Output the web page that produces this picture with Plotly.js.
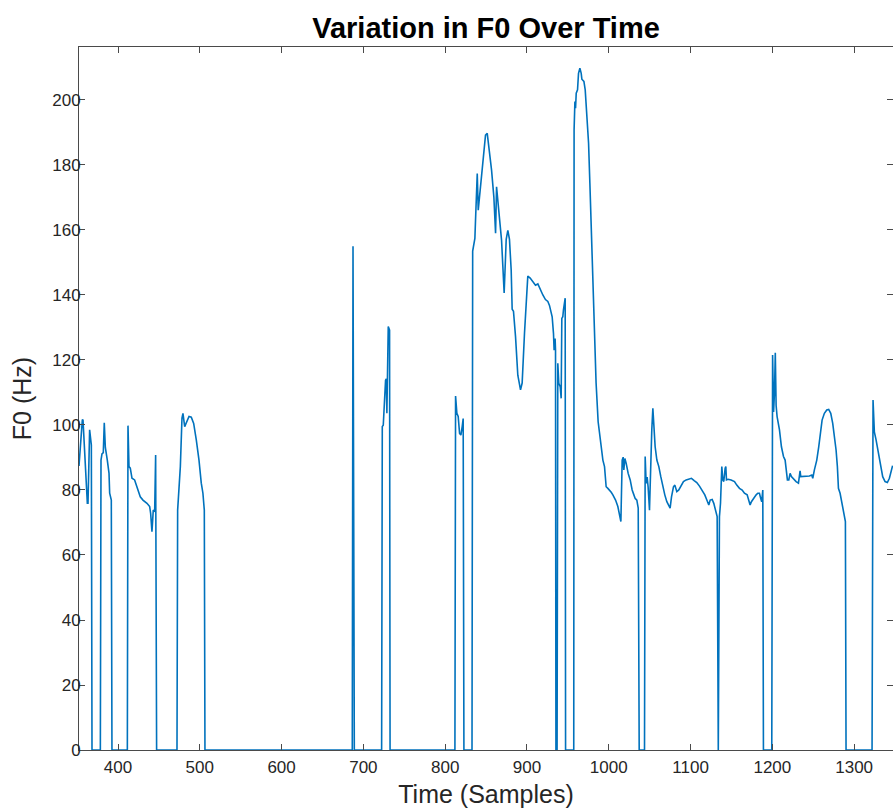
<!DOCTYPE html>
<html>
<head>
<meta charset="utf-8">
<script src="https://cdn.plot.ly/plotly-3.0.1.min.js"></script>
<style>html,body{margin:0;padding:0;background:#fff;}#chart{width:893px;height:811px;}</style>
</head>
<body>
<div id="chart"></div>
<script>
// Time (samples) and F0 (Hz)
const timeSamples = [
352.3,353.9,356.4,357.2,358.4,359.2,361.3,362.5,363.3,365.3,367.4,368.2,
378.4,379.2,380.4,382.0,383.2,384.5,386.9,389.0,389.8,391.8,392.6,
411.4,412.2,413.4,415.0,417.1,420.3,423.2,425.6,427.2,430.5,435.4,438.7,439.9,441.5,443.1,444.8,446.0,447.2,
472.1,472.9,474.5,476.2,478.2,479.4,481.5,483.5,486.8,489.6,492.5,495.7,499.0,501.8,503.8,505.5,506.3,
686.4,687.3,688.9,
722.3,723.1,724.3,727.1,728.0,728.7,730.4,732.0,732.6,
811.9,812.7,814.3,815.9,817.6,819.2,820.8,822.0,822.9,
832.8,833.6,836.3,837.1,839.2,840.4,843.2,846.1,849.3,851.4,853.4,856.7,859.5,861.6,862.8,864.4,866.9,868.9,870.5,872.1,
874.6,876.6,878.6,880.7,881.9,883.5,886.0,888.8,892.1,894.1,897.0,899.0,901.0,903.9,907.2,910.4,913.3,915.3,919.4,922.6,925.5,927.5,929.6,930.8,932.4,933.2,934.4,934.9,935.4,
936.8,937.7,938.9,940.6,941.8,942.6,943.8,944.6,946.7,947.2,
957.2,957.6,958.6,959.4,960.2,961.8,963.0,964.7,966.3,967.1,969.6,971.2,973.2,975.3,976.9,978.5,980.1,981.8,983.0,984.5,987.0,988.7,990.7,992.8,994.8,996.8,998.9,1000.9,1003.0,1005.0,1008.3,1011.1,1013.1,1014.8,
1016.4,1017.6,1018.4,1019.7,1021.3,1023.7,1026.2,1028.6,1030.7,1032.3,1034.3,1036.0,1037.2,
1043.7,1044.5,1045.7,1046.9,1048.1,1049.8,1051.1,1052.6,1053.9,1055.1,1056.7,1058.8,1061.2,1063.6,1066.1,1068.5,1071.0,1073.4,1075.0,1076.7,1079.1,1080.8,1083.2,1085.6,1088.5,1091.3,1094.6,1097.9,1101.1,1104.4,1107.6,1110.9,1114.2,1117.4,1119.9,1122.3,1124.0,1126.4,1128.4,1130.5,1132.5,1133.9,
1135.3,1136.6,1138.2,1139.4,1140.6,1142.3,1143.1,1143.9,1145.9,1149.6,1153.7,1156.5,1159.8,1163.1,1165.9,1169.2,1171.2,1172.8,1174.4,1176.9,1180.2,1182.2,1184.2,1185.8,1187.0,1188.3,1189.1,
1199.3,1200.3,1201.5,1202.6,1203.6,1204.6,1205.8,1208.7,1211.1,1213.6,1215.6,1216.8,1218.4,1220.1,1221.7,1223.3,1225.8,1229.0,1231.9,1233.1,1233.9,1234.7,1237.2,1241.2,1245.3,1248.2,1249.4,1251.4,1254.3,1256.7,1259.2,1260.8,1263.6,1266.5,1268.9,1271.4,1273.8,1275.9,1277.9,1279.5,1280.8,1282.8,1285.2,1287.3,1289.3,1290.1,
1321.9,1323.1,1324.7,1326.8,1328.8,1330.9,1332.9,1334.9,1337.8,1340.6,1343.1,1346.0,1347.0
];
const f0Hz = [
87.4,93.3,101.7,101.5,95.4,95.8,84.1,75.9,75.9,98.5,93.8,0,
0,89.2,91.1,91.5,100.7,93.1,89.2,85.1,79.0,76.9,0,
0,99.8,87.2,86.7,83.6,83.1,81.0,79.5,77.9,76.9,75.9,74.9,72.8,67.2,73.8,73.3,90.8,0,
0,73.8,81.0,87.2,102.1,103.6,99.5,100.5,102.6,102.4,100.5,95.4,89.2,82.1,79.0,73.8,0,
0,155,0,
0,99.5,99.9,113.8,114.2,103.6,130.3,129.2,0,
0,108.9,103.6,102.6,97.4,96.9,99.5,102.0,0,
0,153.5,157.4,163.1,177.4,166.1,173.3,181.5,189.2,189.7,185.6,178.4,170.2,159.0,173.3,169.2,163.0,156.9,148.8,140.6,
157.1,159.9,157.1,147.6,135.6,135.0,127.2,115.3,110.8,112.9,128.4,139.2,145.8,145.2,144.0,143.0,143.4,142.2,140.0,138.6,138.0,136.8,134.4,133.3,128.2,123.0,126.6,123.0,0,
0,119.0,112.8,111.8,108.2,132.8,133.3,135.4,139.0,0,
0,190.8,199.5,197.5,202.1,203.1,208.2,209.8,208.2,206.4,205.7,203.1,195.9,186.7,174.4,162.1,148.7,135.4,123.1,112.9,101.0,97.0,93.3,89.2,87.2,81.0,80.5,80.0,79.3,78.5,76.9,74.9,72.8,70.3,
89.2,90.1,86.2,89.7,88.2,85.1,83.1,80.0,78.5,77.4,76.9,74.4,0,
0,90.3,82.0,84.0,81.0,73.8,90.3,98.5,105.1,99.5,93.3,89.2,87.2,84.1,81.0,78.5,76.4,74.9,74.4,77.9,81.0,81.5,79.5,80.0,81.5,82.6,83.1,83.3,83.6,82.9,82.3,81.2,80.0,78.5,76.9,75.4,76.9,77.1,75.9,73.3,71.8,0,
71.8,75.9,87.2,83.1,82.6,86.7,87.2,83.1,83.3,83.1,82.6,81.5,80.5,80.0,79.0,78.5,76.9,75.4,76.4,77.4,78.5,79.0,79.0,77.4,76.4,80.0,0,
0,121.5,104.0,110.0,122.2,106.0,102.6,98.5,93.3,90.3,89.2,85.6,83.1,83.1,85.1,84.1,83.3,82.6,82.1,84.1,85.9,84.1,84.1,84.1,84.3,84.6,83.6,86.2,89.2,93.3,99.5,101.5,103.6,104.6,104.8,103.6,100.5,96.4,92.3,87.2,80.5,79.0,75.9,72.8,70.3,0,
0,107.7,97.9,95.4,92.3,89.2,86.2,84.1,82.6,82.3,83.6,86.7,87.5
];
const xTickVals = [400,500,600,700,800,900,1000,1100,1200,1300];
const yTickVals = [0,20,40,60,80,100,120,140,160,180,200];

const font = '"Liberation Sans", Arial, Helvetica, sans-serif';
const trace = {
  x: timeSamples, y: f0Hz, type: 'scatter', mode: 'lines',
  line: {color: '#0072BD', width: 1.6}, hoverinfo: 'skip'
};
const axisCommon = {
  showline: true, linecolor: '#4a4a4a', linewidth: 1, mirror: 'ticks',
  ticks: 'inside', ticklen: 6, tickcolor: '#4a4a4a', tickwidth: 1,
  showgrid: false, zeroline: false,
  tickfont: {family: font, size: 17, color: '#262626'}
};
const layout = {
  width: 893, height: 811,
  margin: {l: 79, r: 0, t: 47, b: 61},
  paper_bgcolor: '#fff', plot_bgcolor: '#fff',
  showlegend: false,
  title: {text: '<b>Variation in F0 Over Time</b>', font: {family: font, size: 29, color: '#000'},
          x: 0.5, xref: 'paper', xanchor: 'center', y: 1, yref: 'paper', yanchor: 'bottom', pad: {b: 9}},
  xaxis: Object.assign({}, axisCommon, {
    range: [352.3, 1347.5], tickvals: xTickVals, ticktext: xTickVals.map(String),
    ticklabelstandoff: 2,
    title: {text: 'Time (Samples)', font: {family: font, size: 25, color: '#262626'}, standoff: 9}
  }),
  yaxis: Object.assign({}, axisCommon, {
    range: [0, 216.3], tickvals: yTickVals, ticktext: yTickVals.map(String),
    ticklabelstandoff: -6,
    title: {text: 'F0 (Hz)', font: {family: font, size: 25, color: '#262626'}, standoff: 13}
  })
};
Plotly.newPlot('chart', [trace], layout, {displayModeBar: false, staticPlot: true});
</script>
</body>
</html>
